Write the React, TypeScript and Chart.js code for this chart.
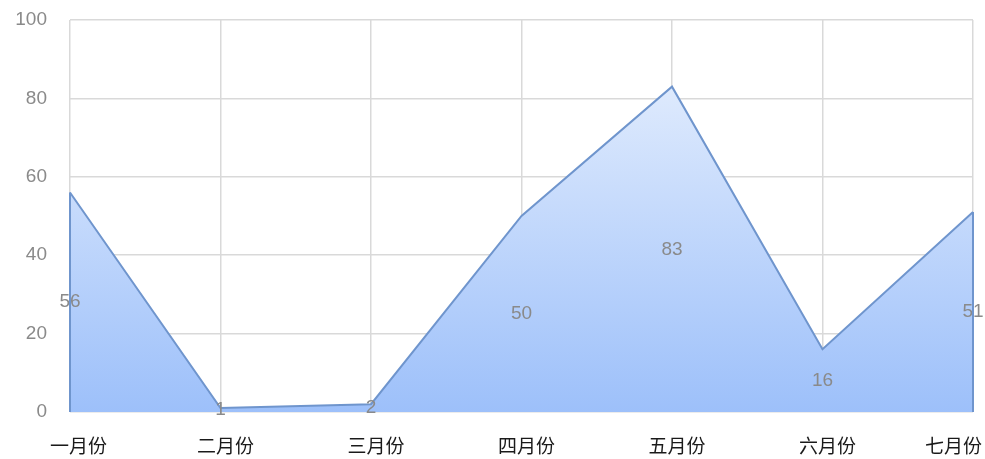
import React, { useEffect, useRef } from "react";
import { Chart, registerables } from "chart.js";

Chart.register(...registerables);

const categories = ["一月份", "二月份", "三月份", "四月份", "五月份", "六月份", "七月份"];
const values = [56, 1, 2, 50, 83, 16, 51];
const yTicks = [0, 20, 40, 60, 80, 100];

const LINE = "#6f95cd";

const dataLabelPlugin = {
  id: "midLabels",
  afterDatasetsDraw(chart: any) {
    const { ctx } = chart;
    const xs = chart.scales.x;
    const ys = chart.scales.y;
    ctx.save();
    ctx.font = '19px "Liberation Sans", sans-serif';
    ctx.fillStyle = "#8a8a8a";
    ctx.textAlign = "center";
    ctx.textBaseline = "middle";
    values.forEach((v, i) => {
      ctx.fillText(String(v), xs.getPixelForValue(i), ys.getPixelForValue(v / 2));
    });
    ctx.restore();
  },
};

const edgePlugin = {
  id: "edges",
  afterDatasetsDraw(chart: any) {
    const { ctx } = chart;
    const xs = chart.scales.x;
    const ys = chart.scales.y;
    const last = values.length - 1;
    ctx.save();
    ctx.strokeStyle = LINE;
    ctx.lineWidth = 2;
    [0, last].forEach((i) => {
      const x = xs.getPixelForValue(i);
      ctx.beginPath();
      ctx.moveTo(x, ys.getPixelForValue(values[i]));
      ctx.lineTo(x, ys.getPixelForValue(0));
      ctx.stroke();
    });
    ctx.restore();
  },
};

const catLabelPlugin = {
  id: "catLabels",
  afterDraw(chart: any) {
    const { ctx } = chart;
    const xs = chart.scales.x;
    ctx.save();
    ctx.font = '19px "Noto Sans CJK SC", sans-serif';
    ctx.fillStyle = "#1a1a1a";
    ctx.textAlign = "left";
    ctx.textBaseline = "middle";
    categories.forEach((c, i) => {
      const w = ctx.measureText(c).width;
      let left = xs.getPixelForValue(i) + 5 - w / 2;
      if (left < 50) left = 50;
      if (left + w > 982) left = 982 - w;
      ctx.fillText(c, left, 446);
    });
    ctx.restore();
  },
};

export default function App() {
  const ref = useRef<HTMLCanvasElement | null>(null);
  useEffect(() => {
    if (!ref.current) return;
    const chart = new Chart(ref.current, {
      type: "line",
      data: {
        labels: categories,
        datasets: [
          {
            data: values,
            borderColor: LINE,
            borderWidth: 2,
            pointRadius: 0,
            tension: 0,
            fill: "origin",
            backgroundColor: (context: any) => {
              const { chart } = context;
              const area = chart.chartArea;
              if (!area) return "rgba(160,195,250,0.9)";
              const ys = chart.scales.y;
              const top = ys.getPixelForValue(Math.max(...values));
              const g = chart.ctx.createLinearGradient(0, top, 0, area.bottom);
              g.addColorStop(0, "rgb(222,234,253)");
              g.addColorStop(1, "rgb(157,192,250)");
              return g;
            },
          },
        ],
      },
      options: {
        animation: false,
        responsive: true,
        maintainAspectRatio: false,
        layout: { padding: { top: 20, right: 12, bottom: 47, left: 0 } },
        plugins: { legend: { display: false }, tooltip: { enabled: false } },
        scales: {
          x: {
            type: "category",
            offset: false,
            grid: { color: "#d9d9d9", lineWidth: 1.5, drawTicks: false },
            border: { display: false },
            ticks: { display: false },
            afterFit: (s: any) => {
              s.height = 0;
              s.paddingLeft = 0;
              s.paddingRight = 0;
            },
          },
          y: {
            min: 0,
            max: 100,
            afterBuildTicks: (s: any) => {
              s.ticks = yTicks.map((v) => ({ value: v }));
            },
            grid: { color: "#d9d9d9", lineWidth: 1.5, drawTicks: false },
            border: { display: false },
            ticks: {
              color: "#8a8a8a",
              padding: 23,
              font: { family: '"Liberation Sans", sans-serif', size: 19 },
            },
            afterFit: (s: any) => {
              s.width = 70;
              s.paddingTop = 0;
              s.paddingBottom = 0;
            },
          },
        },
      },
      plugins: [dataLabelPlugin, edgePlugin, catLabelPlugin],
    });
    return () => chart.destroy();
  }, []);
  return (
    <div style={{ position: "fixed", left: 0, top: 0, width: 985, height: 459, background: "#fff" }}>
      <canvas ref={ref} />
    </div>
  );
}
